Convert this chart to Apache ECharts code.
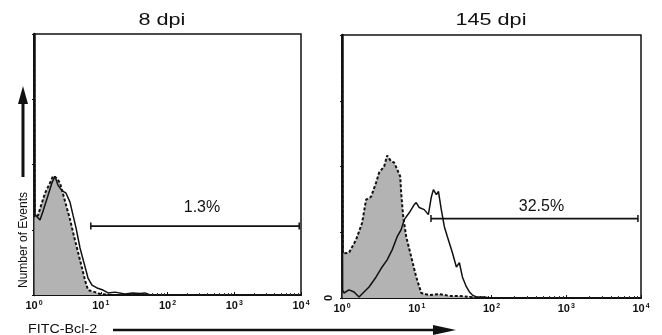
<!DOCTYPE html>
<html>
<head>
<meta charset="utf-8">
<script src="https://cdn.jsdelivr.net/npm/echarts@6/dist/echarts.min.js"></script>
<style>
  html, body { margin: 0; padding: 0; background: #fff; }
  #main { width: 662px; height: 335px; }
</style>
</head>
<body>
<div id="main"></div>
<script>
// panel titles
const panelTitles = ["8 dpi", "145 dpi"];

// 8 dpi: isotype control (dashed, grey fill)
const ctrl8X = [1, 1.02, 1.07, 1.15, 1.23, 1.46, 1.74, 1.93, 2.13, 2.45, 2.91, 3.46, 4.11, 4.89, 5.81, 6.44, 8.2, 9.75, 13.7];
const ctrl8Y = [100, 30, 30, 30.5, 33, 39, 43, 45.6, 45, 43, 36, 29, 21, 13.4, 5.7, 1.9, 1.1, 0.4, 0];
// 8 dpi: Bcl-2 stained (solid)
const bcl8X = [1, 1.02, 1.07, 1.23, 1.36, 1.57, 1.86, 2.06, 2.29, 2.63, 3.02, 3.46, 3.84, 4.26, 4.89, 5.61, 6.44, 7.39, 8.79, 10.8, 12.9, 16.3, 23.1, 30, 38.7, 46, 54.7];
const bcl8Y = [100, 31, 31, 28.7, 32, 37, 43, 45.5, 42, 40, 39, 35.6, 30.6, 25.7, 18, 12.3, 6.5, 3.8, 2.7, 1.9, 0.8, 1.1, 0.4, 0.8, 0.6, 0.8, 0];

// 145 dpi: isotype control
const ctrl145X = [1, 1.02, 1.06, 1.24, 1.54, 1.86, 2.10, 2.45, 2.86, 3.14, 3.66, 4.02, 4.55, 4.99, 5.47, 6.01, 6.19, 6.59, 7.23, 8.44, 9.84, 11.5, 14.7, 20.0, 27.3, 37.2, 50.7, 69];
const ctrl145Y = [100, 17, 16.4, 17.2, 22.1, 28.6, 37.4, 38.5, 43.9, 47.7, 50, 54.2, 51.9, 51.5, 48.9, 46.2, 40, 30.9, 23.3, 15.6, 8.0, 1.9, 1.1, 1.5, 0.8, 0.8, 0.4, 0];
// 145 dpi: Bcl-2 stained
const bcl145X = [1, 1.02, 1.06, 1.24, 1.45, 1.69, 1.97, 2.30, 2.86, 3.44, 4.02, 4.69, 5.47, 6.19, 6.80, 7.93, 9.25, 9.84, 10.8, 12.6, 14.3, 15.7, 16.7, 18.3, 19.5, 21.3, 23.4, 25.7, 30.0, 33.9, 37.2, 40.8, 46.2, 50.7, 55.6, 62.9, 80.5, 94];
const bcl145Y = [100, 3, 1.9, 3.1, 2.3, 0.4, 2.3, 4.2, 8.0, 11.8, 14.5, 18.3, 23.3, 26, 29.8, 32.4, 35.5, 36.3, 34.4, 33.6, 31.7, 38.5, 41.2, 39.3, 40.5, 33.6, 27.1, 23.3, 17.2, 11.8, 13.4, 8.0, 4.2, 2.3, 1.1, 0.4, 0.4, 0];

// positive gates
const gateFrom = [7.1, 15.5];
const gateTo = [9400, 9100];
const gateLevel = [26.4, 30.2];
const gateText = ["1.3%", "32.5%"];

const FONT = "Liberation Sans";
const zip = (xs, ys) => xs.map((x, i) => [x, ys[i]]);

let myChart = echarts.init(document.getElementById("main"));

function xAxisFor(i) {
  return {
    gridIndex: i,
    type: "log",
    logBase: 10,
    min: 1,
    max: 10000,
    axisLine: { lineStyle: { color: "#111", width: 2 } },
    axisTick: { inside: true, length: 3, lineStyle: { color: "#111" } },
    minorTick: { show: true, splitNumber: 9, length: 2, lineStyle: { color: "#333" } },
    splitLine: { show: false },
    axisLabel: {
      margin: 5,
      color: "#111",
      formatter: v => "{b|10}{s|" + Math.round(Math.log10(v)) + "}",
      rich: {
        b: { fontSize: 11, fontWeight: "bold", fontFamily: FONT, color: "#111" },
        s: { fontSize: 7, fontWeight: "bold", fontFamily: FONT, color: "#111", verticalAlign: "top", padding: [0, 0, 5, 1] }
      }
    }
  };
}

function yAxisFor(i) {
  return {
    gridIndex: i,
    type: "value",
    min: 0,
    max: 100,
    interval: 25,
    axisLine: { show: true, lineStyle: { color: "#111", width: 2.5 } },
    axisTick: { show: true, length: 2, lineStyle: { color: "#111" } },
    splitLine: { show: false },
    axisLabel: {
      show: i === 1,
      rotate: 90,
      margin: 8,
      fontSize: 11,
      fontFamily: FONT,
      fontWeight: "bold",
      color: "#111",
      formatter: v => (v === 0 ? "0" : "")
    }
  };
}

function ctrlSeries(i, xs, ys) {
  return {
    type: "line",
    xAxisIndex: i,
    yAxisIndex: i,
    data: zip(xs, ys),
    symbol: "none",
    clip: false,
    lineStyle: { color: "#111", width: 2, type: [3, 2] },
    areaStyle: { color: "#b3b3b3", opacity: 1 },
    z: 2
  };
}

function bclSeries(i, xs, ys) {
  return {
    type: "line",
    xAxisIndex: i,
    yAxisIndex: i,
    data: zip(xs, ys),
    symbol: "none",
    clip: false,
    lineStyle: { color: "#111", width: 1.5 },
    z: 3
  };
}

function gateSeries(i) {
  const mid = Math.sqrt(gateFrom[i] * gateTo[i]);
  return {
    type: "line",
    xAxisIndex: i,
    yAxisIndex: i,
    symbol: "rect",
    symbolSize: [1.5, 7],
    showAllSymbol: true,
    lineStyle: { color: "#111", width: 1.8 },
    itemStyle: { color: "#111" },
    z: 4,
    data: [
      [gateFrom[i], gateLevel[i]],
      {
        value: [mid, gateLevel[i]],
        symbolSize: 0,
        label: {
          show: true,
          position: "top",
          distance: i === 0 ? 11 : 4,
          offset: [7, 0],
          formatter: gateText[i],
          fontSize: 16,
          fontFamily: FONT,
          color: "#111"
        }
      },
      [gateTo[i], gateLevel[i]]
    ]
  };
}

const option = {
  animation: false,
  backgroundColor: "#fff",
  grid: [
    { left: 34, top: 34, width: 267, height: 261, show: true, borderColor: "#111", borderWidth: 1.5 },
    { left: 342, top: 35, width: 299, height: 263, show: true, borderColor: "#111", borderWidth: 1.5 }
  ],
  xAxis: [xAxisFor(0), xAxisFor(1)],
  yAxis: [yAxisFor(0), yAxisFor(1)],
  series: [
    ctrlSeries(0, ctrl8X, ctrl8Y),
    bclSeries(0, bcl8X, bcl8Y),
    gateSeries(0),
    ctrlSeries(1, ctrl145X, ctrl145Y),
    bclSeries(1, bcl145X, bcl145Y),
    gateSeries(1)
  ],
  graphic: [
    {
      type: "text", x: 162, y: 21, scaleX: 1.35,
      style: { text: panelTitles[0], font: "16px " + FONT, fill: "#111", align: "center", verticalAlign: "middle" }
    },
    {
      type: "text", x: 491, y: 21, scaleX: 1.35,
      style: { text: panelTitles[1], font: "16px " + FONT, fill: "#111", align: "center", verticalAlign: "middle" }
    },
    {
      type: "text", x: 24, y: 240, rotation: Math.PI / 2,
      style: { text: "Number of Events", font: "12px " + FONT, fill: "#111", align: "center", verticalAlign: "middle" }
    },
    {
      type: "line",
      shape: { x1: 23, y1: 177, x2: 23, y2: 100 },
      style: { stroke: "#111", lineWidth: 3 }
    },
    {
      type: "polygon",
      shape: { points: [[18, 104], [23, 86], [28, 104]] },
      style: { fill: "#111" }
    },
    {
      type: "text", x: 28, y: 329, scaleX: 1.1,
      style: { text: "FITC-Bcl-2", font: "13px " + FONT, fill: "#111", align: "left", verticalAlign: "middle" }
    },
    {
      type: "line",
      shape: { x1: 113, y1: 330, x2: 440, y2: 330 },
      style: { stroke: "#111", lineWidth: 2.5 }
    },
    {
      type: "polygon",
      shape: { points: [[433, 325], [456, 330], [433, 335]] },
      style: { fill: "#111" }
    }
  ]
};

option && myChart.setOption(option);
</script>
</body>
</html>
